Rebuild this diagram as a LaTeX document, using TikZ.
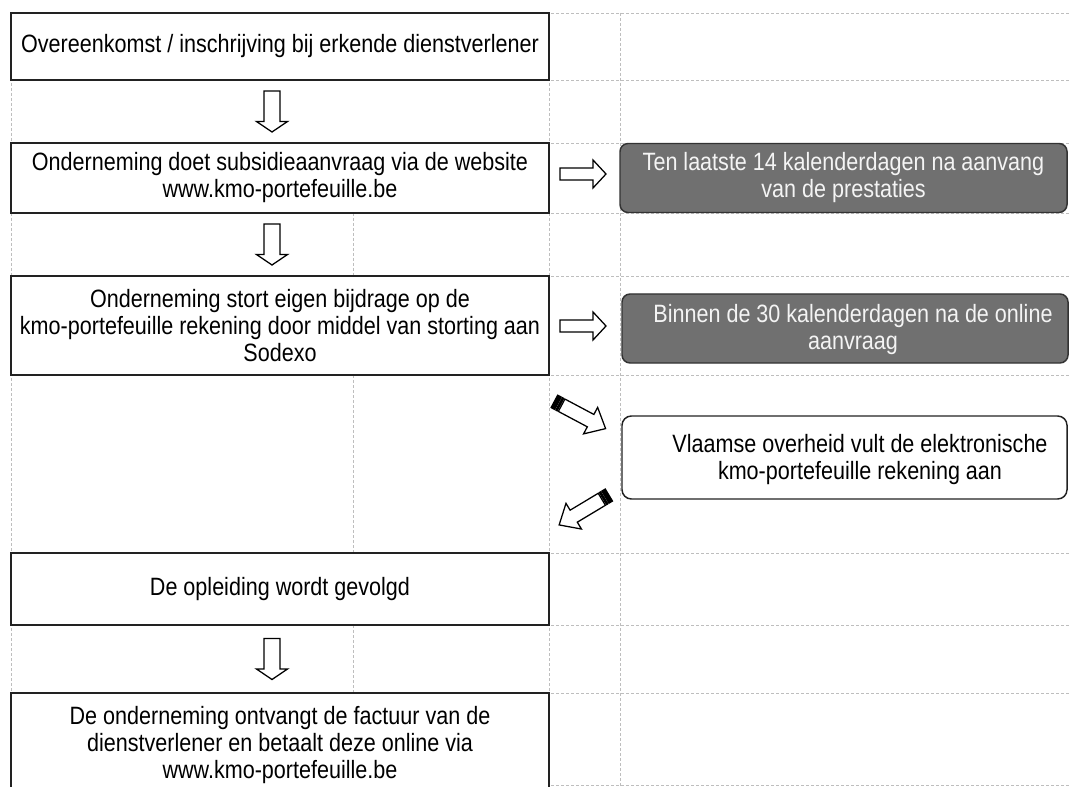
\documentclass[tikz,border=0pt]{standalone}
\usepackage{fontspec}
\setmainfont{Liberation Sans}[FakeStretch=0.86]
\definecolor{gridc}{HTML}{BEBEBE}
\definecolor{boxc}{HTML}{222222}
\definecolor{grayfill}{HTML}{707070}
\definecolor{grayline}{HTML}{333333}
\definecolor{graytext}{HTML}{F4F4F4}
\newcommand\dfont{\fontsize{18.8pt}{20.25pt}\selectfont}
\tikzset{
  gridline/.style={draw=gridc, line width=0.6pt, dash pattern=on 2.25pt off 1.5pt},
  box/.style={draw=boxc, fill=white, line width=1.3pt, inner sep=0pt, outer sep=0pt,
    align=center, font=\dfont, text=black},
  graybox/.style={draw=grayline, fill=grayfill, line width=1.1pt, rounded corners=6pt,
    inner sep=0pt, outer sep=0pt, align=center, font=\dfont, text=graytext},
  whitebox/.style={draw=boxc, fill=white, line width=1.1pt, rounded corners=7pt,
    inner sep=0pt, outer sep=0pt},
  boxtext/.style={align=center, font=\dfont, inner sep=0pt},
  arrowsty/.style={draw=black, fill=white, line width=0.95pt, line join=miter},
  pics/downarr/.style={code={
    \draw[arrowsty] (-8,-20.5) -- (8,-20.5) -- (8,10) -- (15.5,10) -- (0,20.5)
      -- (-15.5,10) -- (-8,10) -- cycle;}},
  pics/rightarr/.style={code={
    \draw[arrowsty] (-23,-6) -- (10,-6) -- (10,-14) -- (23,0) -- (10,14)
      -- (10,6) -- (-23,6) -- cycle;}},
  pics/stripearr/.style={code={
    \draw[arrowsty, fill=black] (-29,-7) rectangle (-25,7);
    \draw[arrowsty, fill=black] (-23.6,-7) rectangle (-22.2,7);
    \draw[arrowsty] (-20.8,-7) -- (12,-7) -- (12,-15) -- (29,0) -- (12,15)
      -- (12,7) -- (-20.8,7) -- cycle;}}
}
\begin{document}
\begin{tikzpicture}[x=0.75pt,y=-0.75pt]
\useasboundingbox (0,0) rectangle (1069,787);
\clip (0,0) rectangle (1069,787);
\fill[white] (0,0) rectangle (1069,787);

% table grid
\foreach \yy in {13,80,143,213,276,375,553,625,693,785}
  \draw[gridline] (11,\yy) -- (1069,\yy);
\draw[gridline] (11,13) -- (11,787);
\draw[gridline] (549,13) -- (549,787);
\draw[gridline] (620,13) -- (620,787);
\draw[gridline] (353,213) -- (353,276);
\draw[gridline] (353,375) -- (353,553);
\draw[gridline] (353,625) -- (353,693);

% main steps
\node[box, minimum width=403.5pt, minimum height=50.25pt] (b1) at (280,46.5)
  {Overeenkomst / inschrijving bij erkende dienstverlener};
\node[box, minimum width=403.5pt, minimum height=52.5pt] (b2) at (280,178)
  {Onderneming doet subsidieaanvraag via de website\\www.kmo-portefeuille.be};
\node[box, minimum width=403.5pt, minimum height=74.25pt] (b3) at (280,325.5)
  {Onderneming stort eigen bijdrage op de\\kmo-portefeuille rekening door middel van storting aan\\Sodexo};
\node[box, minimum width=403.5pt, minimum height=54pt] (b4) at (280,589)
  {De opleiding wordt gevolgd};
\node[box, minimum width=403.5pt, minimum height=78pt] (b5) at (280,745)
  {De onderneming ontvangt de factuur van de\\dienstverlener en betaalt deze online via\\www.kmo-portefeuille.be};

% side notes
\node[graybox, minimum width=335.25pt, minimum height=51.75pt] (g1) at (843.5,178)
  {Ten laatste 14 kalenderdagen na aanvang\\van de prestaties};
\node[graybox, minimum width=334.5pt, minimum height=51.75pt] (g2) at (845,328.5) {};
\node[boxtext, text=graytext] (g2t) at (853,329.5)
  {Binnen de 30 kalenderdagen na de online\\aanvraag};
\node[whitebox, minimum width=333.75pt, minimum height=62.25pt] (w1) at (844.5,457.5) {};
\node[boxtext, text=black] (w1t) at (860,459.5)
  {Vlaamse overheid vult de elektronische\\kmo-portefeuille rekening aan};

% block arrows
\coordinate (d1) at (272,111.5);
\coordinate (d2) at (272,244.5);
\coordinate (d3) at (272,659);
\coordinate (r1) at (583,174);
\coordinate (r2) at (583,326);
\coordinate (s1) at (580,415);
\coordinate (s2) at (584,510);
\pic at (d1) {downarr};
\pic at (d2) {downarr};
\pic at (d3) {downarr};
\pic at (r1) {rightarr};
\pic at (r2) {rightarr};
\pic[rotate=-28] at (s1) {stripearr};
\pic[rotate=211] at (s2) {stripearr};
\end{tikzpicture}
\end{document}
